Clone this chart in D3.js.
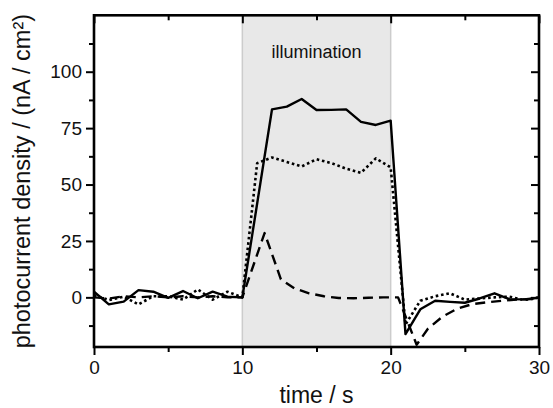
<!DOCTYPE html>
<html>
<head>
<meta charset="utf-8">
<script src="https://cdn.jsdelivr.net/npm/d3@7"></script>
<style>
  html, body { margin: 0; padding: 0; background: #fff; }
  svg { display: block; font-family: "Liberation Sans", Arial, sans-serif; }
</style>
</head>
<body>
<svg id="chart" width="553" height="408"></svg>
<script>
// ---- data ----
const timeSolid = [0,1,2,3,4,5,6,7,8,9,10,11,12,13,14,15,16,17,18,19,20,21,22,23,24,25,26,27,28,29,30];
const solidValues = [2.5,-3.1,-1.9,3.2,2.5,-0.2,2.8,-0.4,2.5,0.3,0,41.6,83.3,84.5,87.9,83,83.1,83.3,77.8,76.4,78.3,-16.3,-5.3,-1.5,-2,-2.4,-0.5,1.8,-0.8,-0.9,-0.2];

const timeDotted = [0,1,2,3,4,5,6,7,8,9,10,11,12,13,14,15,16,17,18,19,20,21,22,23,24,25,26,27,28,29,30];
const dottedValues = [1,-1.2,0.3,-3.1,0.5,0.5,-1,3.5,-1,2.5,0,59.5,62,60,58,61.2,59.5,57,55.2,61.6,57.6,-12,-1.5,0.5,1.8,-1,-0.5,0,0.3,-1.2,0];

const timeDashed = [0,1,2,3,4,5,6,7,8,9,10,11.5,12.6,13.5,14.5,15.5,16.5,17.5,18.5,19.5,20.5,21.75,22.5,23.5,24.5,25.5,26.5,27.5,28.5,29.5,30];
const dashedValues = [0,-0.5,0.5,0,0.5,0,0.5,0,0.5,0,0,28.5,8,4,1.8,0.5,-0.3,-0.4,-0.2,0,0,-21,-14,-8.5,-5,-3,-2.2,-1.5,-1,-0.8,-0.5];

const illumination = [10, 20];
const xMajorTicks = [0, 10, 20, 30];
const xMinorTicks = [5, 15, 25];
const yMajorTicks = [0, 25, 50, 75, 100];
const yMinorTicks = [-12.5, 12.5, 37.5, 62.5, 87.5, 112.5];
const xDomain = [0, 30];
const yDomain = [-22, 125];
const xTitle = "time / s";
const yTitle = "photocurrent density / (nA / cm²)";
const bandLabel = "illumination";

// ---- layout ----
const svg = d3.select("#chart");
const L = 94, R = 539, T = 15.3, B = 347;
const x = d3.scaleLinear().domain(xDomain).range([L, R]);
const y = d3.scaleLinear().domain(yDomain).range([B, T]);

// illumination band
svg.append("rect")
  .attr("x", x(illumination[0])).attr("y", T)
  .attr("width", x(illumination[1]) - x(illumination[0]))
  .attr("height", B - T)
  .attr("fill", "#e8e8e8");
illumination.forEach(v => {
  svg.append("line")
    .attr("x1", x(v)).attr("x2", x(v)).attr("y1", T).attr("y2", B)
    .attr("stroke", "#cccccc").attr("stroke-width", 1.5);
});
svg.append("text")
  .attr("x", x((illumination[0] + illumination[1]) / 2))
  .attr("y", 57.5)
  .attr("text-anchor", "middle")
  .attr("font-size", 18)
  .attr("fill", "#111")
  .text(bandLabel);

// clip
svg.append("clipPath").attr("id", "clip")
  .append("rect").attr("x", L).attr("y", T).attr("width", R - L).attr("height", B - T);

const g = svg.append("g").attr("clip-path", "url(#clip)");
function drawLine(ts, vs, dash) {
  const pts = ts.map((t, i) => [t, vs[i]]);
  g.append("path")
    .datum(pts)
    .attr("fill", "none")
    .attr("stroke", "#000")
    .attr("stroke-width", dash === "dot" ? 2.6 : 2.4)
    .attr("stroke-linejoin", "round")
    .attr("stroke-linecap", "butt")
    .attr("stroke-dasharray", dash === "dot" ? "2.6,2.8" : dash === "dash" ? "10,6" : null)
    .attr("d", d3.line().x(d => x(d[0])).y(d => y(d[1])));
}
drawLine(timeDashed, dashedValues, "dash");
drawLine(timeDotted, dottedValues, "dot");
drawLine(timeSolid, solidValues, null);

// axes
function styleAxis(sel, fs) {
  sel.select(".domain").remove();
  sel.selectAll(".tick line").attr("stroke", "#000").attr("stroke-width", 2);
  sel.selectAll(".tick text").attr("font-size", fs).attr("fill", "#111")
     .attr("font-family", '"Liberation Sans", Arial, sans-serif');
}
// bottom
svg.append("g").attr("transform", `translate(0,${B})`)
  .call(d3.axisBottom(x).tickValues(xMajorTicks).tickSize(8).tickPadding(6).tickFormat(d3.format("d")))
  .call(s => styleAxis(s, 19));
svg.append("g").attr("transform", `translate(0,${B})`)
  .call(d3.axisBottom(x).tickValues(xMinorTicks).tickSize(5).tickFormat(""))
  .call(s => styleAxis(s, 19));
// top (inward)
svg.append("g").attr("transform", `translate(0,${T})`)
  .call(d3.axisBottom(x).tickValues(xMajorTicks).tickSize(8).tickFormat(""))
  .call(s => styleAxis(s, 19));
svg.append("g").attr("transform", `translate(0,${T})`)
  .call(d3.axisBottom(x).tickValues(xMinorTicks).tickSize(5).tickFormat(""))
  .call(s => styleAxis(s, 19));
// left
svg.append("g").attr("transform", `translate(${L},0)`)
  .call(d3.axisLeft(y).tickValues(yMajorTicks).tickSize(8).tickPadding(4).tickFormat(d3.format("d")))
  .call(s => styleAxis(s, 19));
svg.append("g").attr("transform", `translate(${L},0)`)
  .call(d3.axisLeft(y).tickValues(yMinorTicks).tickSize(5).tickFormat(""))
  .call(s => styleAxis(s, 19));
// right (inward)
svg.append("g").attr("transform", `translate(${R},0)`)
  .call(d3.axisLeft(y).tickValues(yMajorTicks).tickSize(8).tickFormat(""))
  .call(s => styleAxis(s, 19));
svg.append("g").attr("transform", `translate(${R},0)`)
  .call(d3.axisLeft(y).tickValues(yMinorTicks).tickSize(5).tickFormat(""))
  .call(s => styleAxis(s, 19));

// frame
svg.append("rect")
  .attr("x", L).attr("y", T).attr("width", R - L).attr("height", B - T)
  .attr("fill", "none").attr("stroke", "#000").attr("stroke-width", 2.6);

// titles
svg.append("text")
  .attr("x", (L + R) / 2).attr("y", 403)
  .attr("text-anchor", "middle")
  .attr("font-size", 23)
  .attr("fill", "#111")
  .text(xTitle);
svg.append("text")
  .attr("transform", `translate(30,${(T + B) / 2}) rotate(-90)`)
  .attr("text-anchor", "middle")
  .attr("font-size", 23.5)
  .attr("fill", "#111")
  .text(yTitle);
</script>
</body>
</html>
